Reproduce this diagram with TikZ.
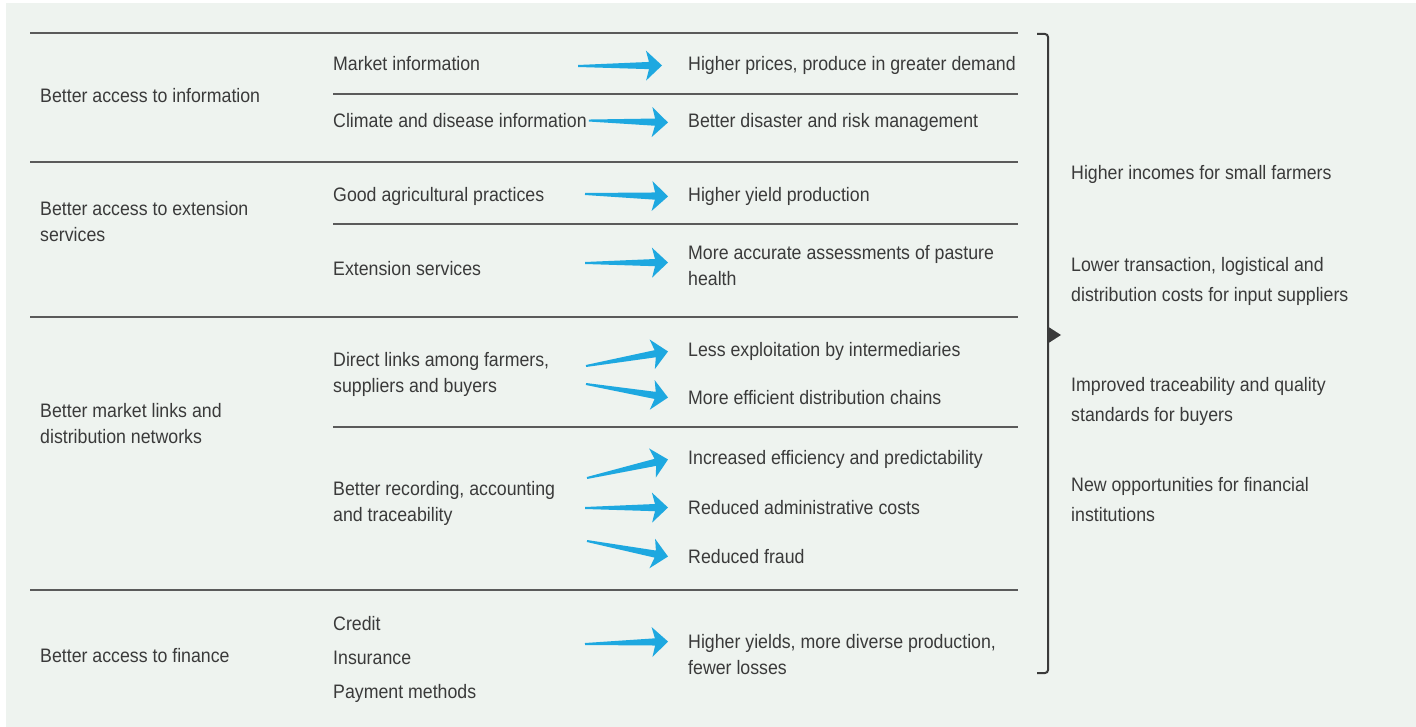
\documentclass[tikz,border=0pt]{standalone}
\usepackage{fontspec}
\setmainfont{Liberation Sans}[FakeStretch=0.91]
\usetikzlibrary{calc}
\definecolor{panel}{HTML}{EEF3EF}
\definecolor{ink}{HTML}{3A3A3A}
\definecolor{rule}{HTML}{5A5A5A}
\definecolor{arrowblue}{HTML}{1EA8E0}
% tapered blue arrow from #1 to #2
\newcommand{\fatto}[2]{%
  \path let \p1=(#1), \p2=(#2) in \pgfextra{%
    \pgfmathsetmacro\faang{atan2(\y2-\y1,\x2-\x1)}\pgfmathsetmacro\falen{veclen(\x2-\x1,\y2-\y1)}%
    \xdef\faang{\faang}\xdef\falen{\falen}\xdef\fax{\x1}\xdef\fay{\y1}};
  \fill[arrowblue, shift={(\fax,\fay)}, rotate=\faang] (0,1) -- (\falen-13,3.6) -- (\falen-16,15)
    -- (\falen,0) -- (\falen-16,-15) -- (\falen-13,-3.6) -- (0,-1) -- cycle;}

\begin{document}
\begin{tikzpicture}[x=1pt, y=1pt,
  txt/.style={anchor=base west, inner sep=0pt, align=left, text=ink, font=\fontsize{19.5}{26}\selectfont},
  cat/.style={txt},
  sub/.style={txt},
  res/.style={txt},
  gain/.style={txt, font=\fontsize{19.5}{30}\selectfont},
  rowline/.style={draw=rule, line width=1.1pt}]
  \useasboundingbox (0,0) rectangle (1416,-727);
  \fill[panel] (6,-3) rectangle (1416,-727);
  % rules
  \foreach \y in {33,162,317,590} \draw[rowline] (30,-\y) -- (1018,-\y);
  \foreach \y in {94,224,427} \draw[rowline] (333,-\y) -- (1018,-\y);
  % left column (base = last line)
  \node[cat] (cat1) at (40,-102.5) {Better access to information};
  \node[cat] (cat2) at (40,-241.5) {Better access to extension\\services};
  \node[cat] (cat3) at (40,-443.5) {Better market links and\\distribution networks};
  \node[cat] (cat4) at (40,-662.5) {Better access to finance};
  % middle column
  \node[sub] (sub1) at (333,-70.5) {Market information};
  \node[sub] (sub2) at (333,-127.5) {Climate and disease information};
  \node[sub] (sub3) at (333,-201.5) {Good agricultural practices};
  \node[sub] (sub4) at (333,-275.5) {Extension services};
  \node[sub] (sub5) at (333,-392.5) {Direct links among farmers,\\suppliers and buyers};
  \node[sub] (sub6) at (333,-521.5) {Better recording, accounting\\and traceability};
  \node[sub] (sub7) at (333,-698.5) {Credit\\[8pt]Insurance\\[8pt]Payment methods};
  % results
  \node[res] (res1) at (688,-70.5) {Higher prices, produce in greater demand};
  \node[res] (res2) at (688,-127.5) {Better disaster and risk management};
  \node[res] (res3) at (688,-201.5) {Higher yield production};
  \node[res] (res4) at (688,-285.5) {More accurate assessments of pasture\\health};
  \node[res] (res5) at (688,-356.5) {Less exploitation by intermediaries};
  \node[res] (res6) at (688,-404.5) {More efficient distribution chains};
  \node[res] (res7) at (688,-464.5) {Increased efficiency and predictability};
  \node[res] (res8) at (688,-514.5) {Reduced administrative costs};
  \node[res] (res9) at (688,-563.5) {Reduced fraud};
  \node[res] (res10) at (688,-674.5) {Higher yields, more diverse production,\\fewer losses};
  % outcomes
  \node[gain] (gain1) at (1071,-179.5) {Higher incomes for small farmers};
  \node[gain] (gain2) at (1071,-301.5) {Lower transaction, logistical and\\distribution costs for input suppliers};
  \node[gain] (gain3) at (1071,-421.5) {Improved traceability and quality\\standards for buyers};
  \node[gain] (gain4) at (1071,-521.5) {New opportunities for financial\\institutions};
  % arrow tails
  \coordinate (t1) at (578,-66); \coordinate (t3) at (585,-194); \coordinate (t4) at (585,-263);
  \coordinate (t5) at (586,-366); \coordinate (t6) at (586,-384); \coordinate (t7) at (587,-478);
  \coordinate (t8) at (585,-508); \coordinate (t9) at (587,-541); \coordinate (t10) at (585,-644);
  \fatto{t1}{[xshift=-26pt]res1.west}
  \fatto{[xshift=2pt]sub2.east}{[xshift=-20pt]res2.west}
  \fatto{t3}{[xshift=-20pt]res3.west}
  \fatto{t4}{[xshift=-20pt,yshift=3pt]res4.west}
  \fatto{t5}{[xshift=-20pt]res5.west}
  \fatto{t6}{[xshift=-20pt]res6.west}
  \fatto{t7}{[xshift=-20pt]res7.west}
  \fatto{t8}{[xshift=-20pt]res8.west}
  \fatto{t9}{[xshift=-20pt]res9.west}
  \fatto{t10}{[xshift=-20pt,yshift=13pt]res10.west}
  % brace
  \draw[ink, line width=2pt, rounded corners=3pt] (1037,-34) -- (1048,-34) -- (1048,-673) -- (1037,-673);
  \fill[ink] (1047,-326) -- (1061,-335) -- (1047,-344) -- cycle;
\end{tikzpicture}
\end{document}
